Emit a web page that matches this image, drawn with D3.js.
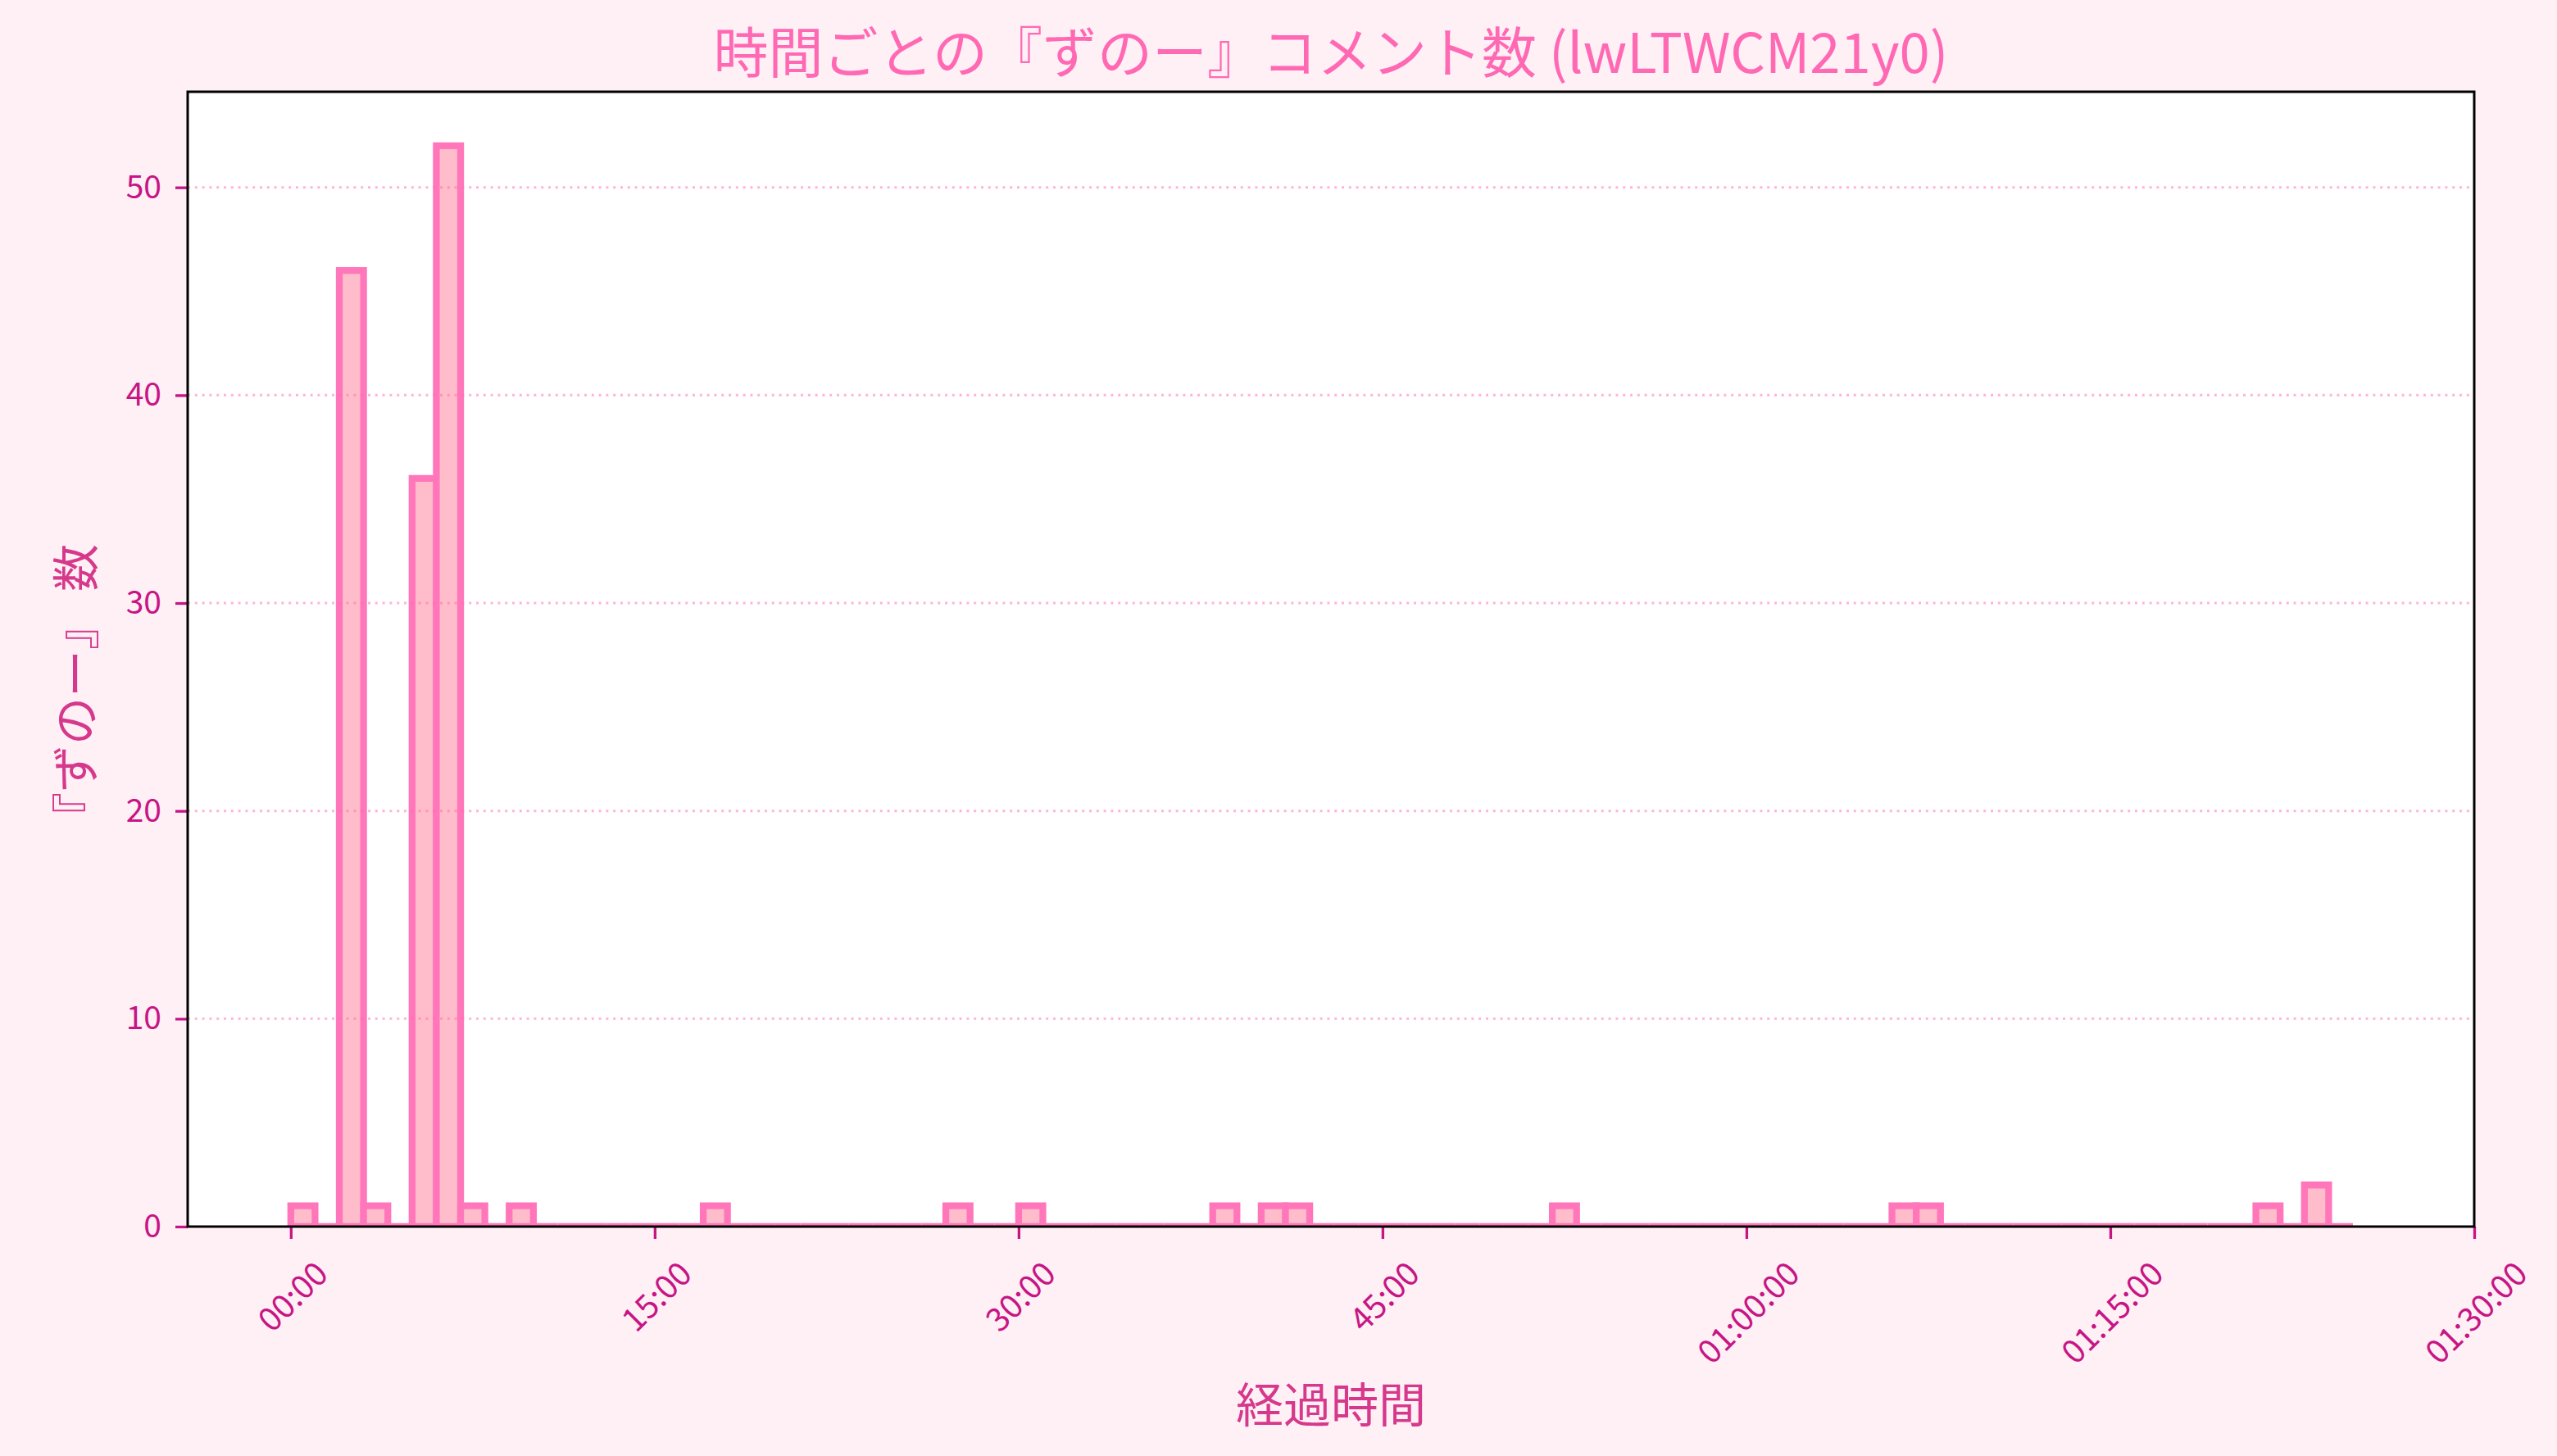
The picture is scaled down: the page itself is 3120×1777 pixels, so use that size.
<!DOCTYPE html>
<html>
<head>
<meta charset="utf-8">
<script src="https://cdn.jsdelivr.net/npm/d3@7"></script>
<style>
  html, body { margin: 0; padding: 0; background: #FFF0F5; }
  svg { display: block; font-family: "Noto Sans CJK JP", "Noto Sans", sans-serif; }
</style>
</head>
<body>
<div id="chart"></div>
<script>
// 1-minute bins (start minute) and comment counts
const binStarts = d3.range(0, 85);
const counts = [
  1, 0, 46, 1, 0, 36, 52, 1, 0, 1,
  0, 0, 0, 0, 0, 0, 0, 1, 0, 0,
  0, 0, 0, 0, 0, 0, 0, 1, 0, 0,
  1, 0, 0, 0, 0, 0, 0, 0, 1, 0,
  1, 1, 0, 0, 0, 0, 0, 0, 0, 0,
  0, 0, 1, 0, 0, 0, 0, 0, 0, 0,
  0, 0, 0, 0, 0, 0, 1, 1, 0, 0,
  0, 0, 0, 0, 0, 0, 0, 0, 0, 0,
  0, 1, 0, 2, 0
];
const xTicks = [0, 15, 30, 45, 60, 75, 90];
const xTickLabels = ["00:00", "15:00", "30:00", "45:00", "01:00:00", "01:15:00", "01:30:00"];
const yTicks = [0, 10, 20, 30, 40, 50];

const title = "時間ごとの『ずのー』コメント数 (lwLTWCM21y0)";
const xLabel = "経過時間";
const yLabel = "『ずのー』 数";

const width = 3120, height = 1777;
const plotLeft = 229, plotRight = 3019, plotTop = 112, plotBottom = 1497;

const svg = d3.select("#chart")
  .append("svg")
  .attr("width", width)
  .attr("height", height);

svg.append("rect")
  .attr("width", width)
  .attr("height", height)
  .attr("fill", "#FFF0F5");

const x = d3.scaleLinear().domain([-4.25, 90]).range([plotLeft, plotRight]);
const y = d3.scaleLinear().domain([0, 54.6]).range([plotBottom, plotTop]);

svg.append("defs").append("clipPath")
  .attr("id", "plot-clip")
  .append("rect")
  .attr("x", plotLeft).attr("y", plotTop)
  .attr("width", plotRight - plotLeft).attr("height", plotBottom - plotTop);

// axes background
svg.append("rect")
  .attr("x", plotLeft).attr("y", plotTop)
  .attr("width", plotRight - plotLeft).attr("height", plotBottom - plotTop)
  .attr("fill", "#fff");

const data = binStarts.map((m, i) => ({ m, c: counts[i] }));

// Draw bars (paths, so empty bins still show their outline at zero)
svg.append("g")
  .attr("clip-path", "url(#plot-clip)")
  .selectAll("path")
  .data(data)
  .enter()
  .append("path")
  .attr("d", d => {
    const x0 = x(d.m), x1 = x(d.m + 1), y0 = y(0), y1 = y(d.c);
    return `M${x0},${y0}V${y1}H${x1}V${y0}Z`;
  })
  .attr("fill", "#FFBCCB")
  .attr("stroke", "#FF77BA")
  .attr("stroke-width", 8.3)
  .attr("stroke-linejoin", "miter");

// horizontal dotted grid
svg.append("g")
  .selectAll("line")
  .data(yTicks.filter(t => t > 0))
  .enter()
  .append("line")
  .attr("x1", plotLeft).attr("x2", plotRight)
  .attr("y1", d => y(d)).attr("y2", d => y(d))
  .attr("stroke", "#FF69B4")
  .attr("stroke-opacity", 0.5)
  .attr("stroke-width", 3)
  .attr("stroke-dasharray", "3 5.8");

// y axis
const yAxis = svg.append("g")
  .attr("transform", `translate(${plotLeft},0)`)
  .call(d3.axisLeft(y).tickValues(yTicks).tickSize(15).tickPadding(17).tickFormat(d3.format("d")));
yAxis.select(".domain").remove();
yAxis.selectAll(".tick line").attr("stroke", "#C71585").attr("stroke-width", 3.3);
yAxis.selectAll(".tick text")
  .attr("fill", "#C71585")
  .style("font-size", "39px")
  .style("font-family", "'Noto Sans CJK JP', sans-serif");

// x axis
const xAxis = svg.append("g")
  .attr("transform", `translate(0,${plotBottom})`)
  .call(d3.axisBottom(x).tickValues(xTicks).tickSize(15).tickFormat((d, i) => xTickLabels[i]));
xAxis.select(".domain").remove();
xAxis.selectAll(".tick line").attr("stroke", "#C71585").attr("stroke-width", 3.3);
xAxis.selectAll(".tick text")
  .attr("fill", "#C71585")
  .style("font-size", "40px")
  .style("font-family", "'Noto Sans CJK JP', sans-serif")
  .attr("text-anchor", "middle")
  .attr("dy", null)
  .attr("dominant-baseline", "central")
  .each(function () {
    const w = this.getComputedTextLength();
    const h = 40 * 0.72;
    const cy = 38 + (w + h) / (2 * Math.SQRT2);
    d3.select(this)
      .attr("y", 0)
      .attr("transform", `translate(0,${cy}) rotate(-45)`);
  });

// spines
svg.append("rect")
  .attr("x", plotLeft).attr("y", plotTop)
  .attr("width", plotRight - plotLeft).attr("height", plotBottom - plotTop)
  .attr("fill", "none")
  .attr("stroke", "#000")
  .attr("stroke-width", 3);

// title and labels
svg.append("text")
  .attr("x", (plotLeft + plotRight) / 2)
  .attr("y", 59)
  .attr("text-anchor", "middle")
  .attr("dominant-baseline", "central")
  .attr("fill", "#FF69B4")
  .style("font-size", "67px")
  .text(title);

svg.append("text")
  .attr("x", (plotLeft + plotRight) / 2)
  .attr("y", 1711)
  .attr("text-anchor", "middle")
  .attr("dominant-baseline", "central")
  .attr("fill", "#D6398C")
  .style("font-size", "58px")
  .text(xLabel);

svg.append("text")
  .attr("transform", `translate(89,${(plotTop + plotBottom) / 2 + 40}) rotate(-90)`)
  .attr("text-anchor", "middle")
  .attr("dominant-baseline", "central")
  .attr("fill", "#D6398C")
  .style("font-size", "58px")
  .text(yLabel);
</script>
</body>
</html>
